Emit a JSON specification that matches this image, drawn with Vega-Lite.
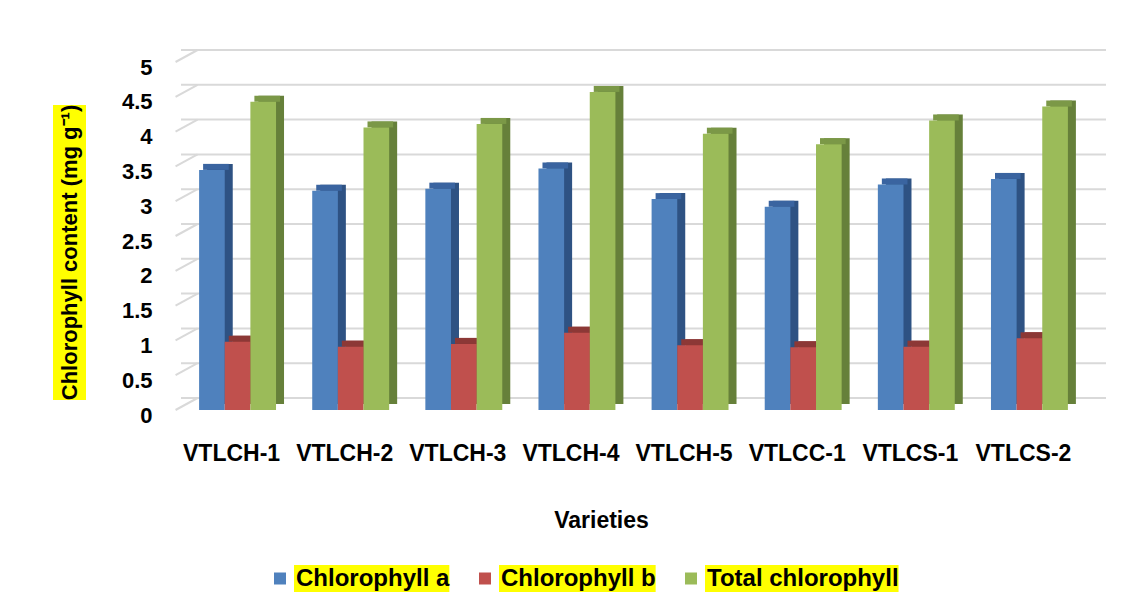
{
  "$schema": "https://vega.github.io/schema/vega-lite/v6.json",
  "background": "white",
  "padding": {"left": 53, "top": 49, "right": 10, "bottom": 5},
  "config": {"view": {"stroke": null}, "font": "Liberation Sans"},
  "datasets": {
    "chl": [
      {"variety": "VTLCH-1", "series": "Chlorophyll a", "value": 3.45},
      {"variety": "VTLCH-1", "series": "Chlorophyll b", "value": 0.98},
      {"variety": "VTLCH-1", "series": "Total chlorophyll", "value": 4.43},
      {"variety": "VTLCH-2", "series": "Chlorophyll a", "value": 3.15},
      {"variety": "VTLCH-2", "series": "Chlorophyll b", "value": 0.91},
      {"variety": "VTLCH-2", "series": "Total chlorophyll", "value": 4.06},
      {"variety": "VTLCH-3", "series": "Chlorophyll a", "value": 3.18},
      {"variety": "VTLCH-3", "series": "Chlorophyll b", "value": 0.95},
      {"variety": "VTLCH-3", "series": "Total chlorophyll", "value": 4.11},
      {"variety": "VTLCH-4", "series": "Chlorophyll a", "value": 3.47},
      {"variety": "VTLCH-4", "series": "Chlorophyll b", "value": 1.11},
      {"variety": "VTLCH-4", "series": "Total chlorophyll", "value": 4.57},
      {"variety": "VTLCH-5", "series": "Chlorophyll a", "value": 3.03},
      {"variety": "VTLCH-5", "series": "Chlorophyll b", "value": 0.93},
      {"variety": "VTLCH-5", "series": "Total chlorophyll", "value": 3.97},
      {"variety": "VTLCC-1", "series": "Chlorophyll a", "value": 2.92},
      {"variety": "VTLCC-1", "series": "Chlorophyll b", "value": 0.90},
      {"variety": "VTLCC-1", "series": "Total chlorophyll", "value": 3.82},
      {"variety": "VTLCS-1", "series": "Chlorophyll a", "value": 3.24},
      {"variety": "VTLCS-1", "series": "Chlorophyll b", "value": 0.91},
      {"variety": "VTLCS-1", "series": "Total chlorophyll", "value": 4.16},
      {"variety": "VTLCS-2", "series": "Chlorophyll a", "value": 3.32},
      {"variety": "VTLCS-2", "series": "Chlorophyll b", "value": 1.03},
      {"variety": "VTLCS-2", "series": "Total chlorophyll", "value": 4.36}
    ],
    "grid": [
      {"v": 0}, {"v": 0.5}, {"v": 1}, {"v": 1.5}, {"v": 2}, {"v": 2.5},
      {"v": 3}, {"v": 3.5}, {"v": 4}, {"v": 4.5}, {"v": 5}
    ]
  },
  "spacing": 35,
  "hconcat": [
    {
      "spacing": 0,
      "vconcat": [
        {"width": 33, "height": 42, "data": {"values": []}, "mark": "point"},
        {
          "width": 33,
          "height": 295,
          "view": {"fill": "#FFFF00", "stroke": null},
          "data": {"values": [{"t": "Chlorophyll content (mg g⁻¹)"}]},
          "mark": {"type": "text", "angle": 270, "fontSize": 22, "fontWeight": "bold", "font": "Liberation Sans", "color": "black", "baseline": "middle", "align": "center"},
          "encoding": {"text": {"field": "t", "type": "nominal"}}
        }
      ]
    },
    {
      "width": 905,
      "height": 348,
      "data": {"name": "chl"},
      "layer": [
        {
          "data": {"name": "grid"},
          "mark": {"type": "rule", "color": "#D9D9D9", "strokeWidth": 2, "xOffset": 20, "x2Offset": 20, "yOffset": -12},
          "encoding": {
            "y": {"field": "v", "type": "quantitative", "scale": {"domain": [0, 5], "nice": false, "zero": true},
                  "axis": {"values": [0, 0.5, 1, 1.5, 2, 2.5, 3, 3.5, 4, 4.5, 5], "format": "~g", "grid": false, "domain": false, "ticks": false, "tickSize": 0, "labelPadding": 29, "labelFont": "Liberation Sans", "labelFontSize": 22, "labelFontWeight": "bold", "labelColor": "black", "labelOffset": 5, "title": null}}
          }
        },
        {
          "data": {"name": "grid"},
          "mark": {"type": "rule", "color": "#D9D9D9", "strokeWidth": 2, "xOffset": -62, "x2Offset": -40, "yOffset": 0, "y2Offset": -12},
          "encoding": {
            "x": {"datum": "VTLCH-1", "type": "nominal",
                  "scale": {"domain": ["VTLCH-1","VTLCH-2","VTLCH-3","VTLCH-4","VTLCH-5","VTLCC-1","VTLCS-1","VTLCS-2"], "paddingInner": 0.32, "paddingOuter": 0.16, "align": 0.5},
                  "axis": null},
            "x2": {"datum": "VTLCH-1"},
            "y": {"field": "v", "type": "quantitative",
                  "axis": {"values": [0, 0.5, 1, 1.5, 2, 2.5, 3, 3.5, 4, 4.5, 5], "format": "~g", "grid": false, "domain": false, "ticks": false, "tickSize": 0, "labelPadding": 29, "labelFont": "Liberation Sans", "labelFontSize": 22, "labelFontWeight": "bold", "labelColor": "black", "labelOffset": 5, "title": null}},
            "y2": {"field": "v"}
          }
        },
        {
          "mark": {"type": "bar", "yOffset": -6, "y2Offset": -3},
          "encoding": {
            "x": {"field": "variety", "type": "nominal", "sort": null,
                  "scale": {"domain": ["VTLCH-1","VTLCH-2","VTLCH-3","VTLCH-4","VTLCH-5","VTLCC-1","VTLCS-1","VTLCS-2"], "paddingInner": 0.32, "paddingOuter": 0.16, "align": 0.721},
                  "axis": null},
            "xOffset": {"field": "series", "type": "nominal", "sort": null, "scale": {"domain": ["Chlorophyll a", "Chlorophyll b", "Total chlorophyll"], "paddingInner": 0, "paddingOuter": 0}},
            "y": {"field": "value", "type": "quantitative",
                  "axis": {"values": [0, 0.5, 1, 1.5, 2, 2.5, 3, 3.5, 4, 4.5, 5], "format": "~g", "grid": false, "domain": false, "ticks": false, "tickSize": 0, "labelPadding": 29, "labelFont": "Liberation Sans", "labelFontSize": 22, "labelFontWeight": "bold", "labelColor": "black", "labelOffset": 5, "title": null}},
            "color": {"field": "series", "type": "nominal", "sort": null,
                      "scale": {"domain": ["Chlorophyll a", "Chlorophyll b", "Total chlorophyll"], "range": ["#2E5283", "#8B3634", "#66803A"]},
                      "legend": null}
          }
        },
        {
          "mark": {"type": "bar", "yOffset": -6},
          "encoding": {
            "x": {"field": "variety", "type": "nominal", "sort": null,
                  "scale": {"domain": ["VTLCH-1","VTLCH-2","VTLCH-3","VTLCH-4","VTLCH-5","VTLCC-1","VTLCS-1","VTLCS-2"], "paddingInner": 0.32, "paddingOuter": 0.16, "align": 0.6105},
                  "axis": null},
            "xOffset": {"field": "series", "type": "nominal", "sort": null},
            "y": {"field": "value", "type": "quantitative",
                  "axis": {"values": [0, 0.5, 1, 1.5, 2, 2.5, 3, 3.5, 4, 4.5, 5], "format": "~g", "grid": false, "domain": false, "ticks": false, "tickSize": 0, "labelPadding": 29, "labelFont": "Liberation Sans", "labelFontSize": 22, "labelFontWeight": "bold", "labelColor": "black", "labelOffset": 5, "title": null}},
            "y2": {"field": "value"},
            "color": {"field": "series", "type": "nominal", "sort": null,
                      "scale": {"domain": ["Chlorophyll a", "Chlorophyll b", "Total chlorophyll"], "range": ["#3A64A0", "#8C3836", "#7B9847"]},
                      "legend": null}
          }
        },
        {
          "mark": {"type": "bar"},
          "encoding": {
            "x": {"field": "variety", "type": "nominal", "sort": null,
                  "scale": {"domain": ["VTLCH-1","VTLCH-2","VTLCH-3","VTLCH-4","VTLCH-5","VTLCC-1","VTLCS-1","VTLCS-2"], "paddingInner": 0.32, "paddingOuter": 0.16, "align": 0.5},
                  "axis": {"title": "Varieties", "labelAngle": 0, "labelFont": "Liberation Sans", "labelFontSize": 23, "labelFontWeight": "bold", "labelColor": "black", "labelPadding": 32, "labelOffset": -6, "ticks": false, "tickSize": 0, "domain": false, "grid": false,
                           "titleFont": "Liberation Sans", "titleFontSize": 23, "titleFontWeight": "bold", "titleColor": "black", "titlePadding": 44, "titleX": 420}},
            "xOffset": {"field": "series", "type": "nominal", "sort": null},
            "y": {"field": "value", "type": "quantitative",
                  "scale": {"domain": [0, 5], "nice": false, "zero": true},
                  "axis": {"values": [0, 0.5, 1, 1.5, 2, 2.5, 3, 3.5, 4, 4.5, 5], "format": "~g", "grid": false, "domain": false, "ticks": false, "tickSize": 0, "labelPadding": 29, "labelFont": "Liberation Sans", "labelFontSize": 22, "labelFontWeight": "bold", "labelColor": "black", "labelOffset": 5, "title": null}},
            "color": {"field": "series", "type": "nominal", "sort": null,
                      "scale": {"domain": ["Chlorophyll a", "Chlorophyll b", "Total chlorophyll"], "range": ["#4F81BD", "#C0504D", "#9BBB59"]},
                      "legend": {"orient": "none", "legendX": 85, "legendY": 503, "direction": "horizontal", "title": null, "symbolType": "square", "symbolSize": 400, "symbolStrokeWidth": 8, "symbolStrokeColor": "white", "symbolOpacity": 1, "labelFont": "Liberation Sans", "labelFontSize": 24, "labelFontWeight": "bold", "labelColor": "black", "labelOffset": 2, "columnPadding": 21, "labelLimit": 400, "padding": 0, "clipHeight": 27,
                                 "encoding": {"entries": {"fill": {"value": "#FFFF00"}, "height": {"value": 27}}}}}
          }
        }
      ],
      "resolve": {"scale": {"x": "independent", "color": "independent"}}
    }
  ]
}
